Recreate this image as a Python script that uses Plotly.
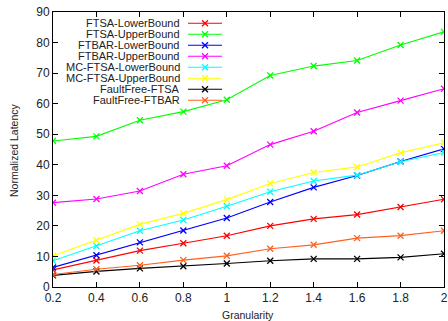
import plotly.graph_objects as go

granularity = [0.2, 0.4, 0.6, 0.8, 1.0, 1.2, 1.4, 1.6, 1.8, 2.0]
x_tick_labels = ["0.2", "0.4", "0.6", "0.8", "1", "1.2", "1.4", "1.6", "1.8", "2"]
y_ticks = [0, 10, 20, 30, 40, 50, 60, 70, 80, 90]

ftsa_lower = [5.6, 8.7, 11.9, 14.3, 16.8, 20.0, 22.3, 23.7, 26.2, 28.7]
ftsa_upper = [47.8, 49.3, 54.6, 57.4, 61.3, 69.2, 72.3, 74.1, 79.2, 83.5]
ftbar_lower = [6.4, 10.4, 14.6, 18.5, 22.6, 27.8, 32.6, 36.5, 41.1, 45.2]
ftbar_upper = [27.6, 28.8, 31.4, 36.9, 39.7, 46.6, 51.0, 57.1, 61.0, 64.9]
mc_ftsa_lower = [8.6, 13.4, 18.4, 21.9, 26.4, 31.2, 34.7, 36.6, 41.0, 44.0]
mc_ftsa_upper = [10.2, 15.3, 20.5, 24.1, 28.6, 33.9, 37.5, 39.3, 43.9, 47.2]
faultfree_ftsa = [3.8, 5.1, 6.1, 6.8, 7.7, 8.6, 9.2, 9.2, 9.7, 10.9]
faultfree_ftbar = [4.1, 5.8, 7.1, 8.8, 10.2, 12.5, 13.8, 16.0, 16.8, 18.4]

series_names = ["FTSA-LowerBound", "FTSA-UpperBound", "FTBAR-LowerBound", "FTBAR-UpperBound",
                "MC-FTSA-LowerBound", "MC-FTSA-UpperBound", "FaultFree-FTSA", "FaultFree-FTBAR"]
series_values = [ftsa_lower, ftsa_upper, ftbar_lower, ftbar_upper,
                 mc_ftsa_lower, mc_ftsa_upper, faultfree_ftsa, faultfree_ftbar]
colors = ["#ff0000", "#00ff00", "#0000ff", "#ff00ff", "#00ffff", "#ffff00", "#000000", "#ff6020"]

FONT = "Liberation Sans, Arial"
TXT = "#222222"
MSIZE, MWIDTH = 6, 1.3

fig = go.Figure()
for name, vals, c in zip(series_names, series_values, colors):
    fig.add_trace(go.Scatter(
        x=granularity, y=vals, name=name, mode="lines+markers",
        line=dict(color=c, width=1.1),
        marker=dict(symbol="x-thin", size=MSIZE, line=dict(color=c, width=MWIDTH)),
        showlegend=False,
    ))

# custom gnuplot-like legend (text right-aligned, sample to the right)
L, R, T, B = 53, 444, 12, 287
W, H = R - L, B - T
def px(x):
    return (x - L) / W
def py(y):
    return (B - y) / H

for i, (name, c) in enumerate(zip(series_names, colors)):
    yy = py(23.3 + 11.0 * i)
    fig.add_annotation(x=px(182), y=yy, xref="paper", yref="paper", text=name,
                       showarrow=False, xanchor="right", yanchor="middle",
                       font=dict(family=FONT, size=11, color=TXT))
    fig.add_shape(type="line", xref="paper", yref="paper", x0=px(188), x1=px(222), y0=yy, y1=yy,
                  line=dict(color=c, width=1.1))
    fig.add_trace(go.Scatter(x=[px(205)], y=[yy], xaxis="x2", yaxis="y2", mode="markers",
                             marker=dict(symbol="x-thin", size=MSIZE, line=dict(color=c, width=MWIDTH)),
                             showlegend=False, hoverinfo="skip"))

# axis titles
fig.add_annotation(x=px(248), y=py(315), xref="paper", yref="paper", text="Granularity",
                   showarrow=False, xanchor="center", yanchor="middle",
                   font=dict(family=FONT, size=10.5, color=TXT))
fig.add_annotation(x=px(14), y=py(150), xref="paper", yref="paper", text="Normalized Latency",
                   showarrow=False, xanchor="center", yanchor="middle", textangle=-90,
                   font=dict(family=FONT, size=10.5, color=TXT))

axis_common = dict(showline=True, linecolor="#000000", linewidth=1, mirror="ticks",
                   ticks="inside", ticklen=5, tickcolor="#000000", showgrid=False, zeroline=False,
                   automargin=False, ticklabeloverflow="allow",
                   tickfont=dict(family=FONT, size=12, color=TXT))

fig.update_layout(
    width=448, height=321,
    margin=dict(l=L, r=448 - R, t=T, b=321 - B),
    paper_bgcolor="white", plot_bgcolor="white",
    xaxis=dict(range=[0.2, 2.0], tickvals=granularity, ticktext=x_tick_labels, **axis_common),
    yaxis=dict(range=[0, 90], tickvals=y_ticks, **axis_common),
    xaxis2=dict(range=[0, 1], overlaying="x", visible=False),
    yaxis2=dict(range=[0, 1], overlaying="y", visible=False),
)

fig.write_html("out.html",
               config={"displayModeBar": False},
               post_script="document.body.style.margin='0';document.body.style.padding='0';"
                           "document.body.style.overflow='hidden';")
